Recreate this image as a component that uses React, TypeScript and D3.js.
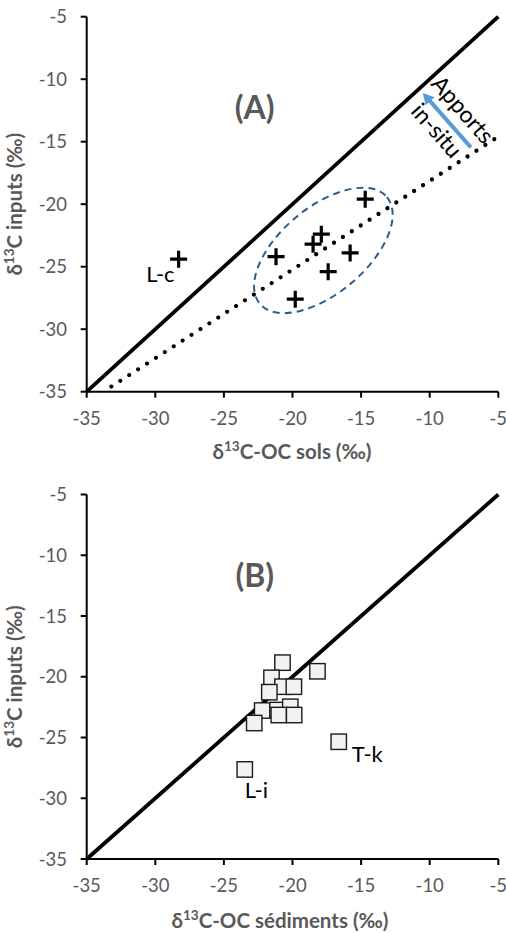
import React from "react";
import * as d3 from "d3";

const tickValues = [-35, -30, -25, -20, -15, -10, -5];

// Panel A: soils
const soilX = [-14.7, -17.9, -18.5, -21.2, -15.8, -17.4, -19.8, -28.3];
const soilY = [-19.6, -22.4, -23.2, -24.2, -23.9, -25.4, -27.6, -24.4];
const soilLabels = ["", "", "", "", "", "", "", "L-c"];

// Regression line (dotted) in panel A
const regRange = [-33.2, -5];
const regSlope = 0.709;
const regIntercept = -11.05;

// Ellipse annotation (data centre)
const ellipseCenter = [-17.75, -23.7];

// Arrow annotation (data coords): from -> to
const arrowFrom = [-7.0, -15.45];
const arrowTo = [-10.5, -11.1];

// Panel B: sediments
const sedX = [-20.73, -18.18, -21.53, -20.73, -19.9, -21.69, -22.21, -21.09, -20.16, -21.0, -19.88, -22.79, -23.48, -16.63];
const sedY = [-18.84, -19.55, -20.09, -20.82, -20.82, -21.27, -22.78, -22.74, -22.47, -23.15, -23.15, -23.81, -27.63, -25.35];
const sedLabels = ["", "", "", "", "", "", "", "", "", "", "", "", "L-i", "T-k"];

const FONT = "Lato, 'Open Sans', sans-serif";
const GREY = "#595959";

const x = d3.scaleLinear().domain([-35, -5]).range([86.7, 498.3]);
const yA = d3.scaleLinear().domain([-35, -5]).range([391.7, 16.7]);
const yB = d3.scaleLinear().domain([-35, -5]).range([859, 494.5]);

function Axes({ y, titleY, titleX, xTitleCx, xTitle }: any) {
  const [y0, y1] = y.range();
  const x0 = x.range()[0];
  const x1 = x.range()[1];
  const cy = (y0 + y1) / 2;
  return (
    <g>
      <line x1={x0} x2={x0} y1={y1} y2={y0} stroke="#000" strokeWidth={2} />
      <line x1={x0} x2={x1} y1={y0} y2={y0} stroke="#000" strokeWidth={2} />
      {tickValues.map((t) => (
        <g key={"y" + t}>
          <line x1={x0 - 6} x2={x0} y1={y(t)} y2={y(t)} stroke="#000" strokeWidth={2} />
          <text x={67} y={y(t) + 6.5} textAnchor="end" fontSize={18.5} fill={GREY} fontFamily={FONT}>
            {t}
          </text>
        </g>
      ))}
      {tickValues.map((t) => (
        <g key={"x" + t}>
          <line x1={x(t)} x2={x(t)} y1={y0} y2={y0 + 6} stroke="#000" strokeWidth={2} />
          <text x={x(t)} y={y0 + 33} textAnchor="middle" fontSize={18.5} fill={GREY} fontFamily={FONT}>
            {t}
          </text>
        </g>
      ))}
      <text
        transform={`translate(${titleX},${cy}) rotate(-90)`}
        textAnchor="middle"
        fontSize={20.5}
        fontWeight="bold"
        fill={GREY}
        fontFamily={FONT}
      >
        <tspan>δ</tspan>
        <tspan dy={-8} fontSize={13.5}>13</tspan>
        <tspan dy={8}>C inputs (‰)</tspan>
      </text>
      <text x={xTitleCx} y={titleY} textAnchor="middle" fontSize={20.5} fontWeight="bold" fill={GREY} fontFamily={FONT}>
        <tspan>δ</tspan>
        <tspan dy={-8} fontSize={13.5}>13</tspan>
        <tspan dy={8}>{xTitle}</tspan>
      </text>
    </g>
  );
}

function Plus({ cx, cy }: any) {
  const s = 8.5;
  return (
    <path d={`M${cx - s},${cy}H${cx + s}M${cx},${cy - s}V${cy + s}`} stroke="#000" strokeWidth={3.2} fill="none" />
  );
}

export default function App() {
  const lineA = d3.line<number>().x((d) => x(d)).y((d) => yA(d));
  const lineB = d3.line<number>().x((d) => x(d)).y((d) => yB(d));
  const regLine = d3
    .line<number>()
    .x((d) => x(d))
    .y((d) => yA(regSlope * d + regIntercept));

  const ax0 = x(arrowFrom[0]);
  const ay0 = yA(arrowFrom[1]);
  const ax1 = x(arrowTo[0]);
  const ay1 = yA(arrowTo[1]);
  const angR = Math.atan2(ay1 - ay0, ax1 - ax0);
  const ang = (angR * 180) / Math.PI;

  return (
    <svg width={506} height={933} style={{ position: "absolute", left: 0, top: 0 }}>
      <rect width={506} height={933} fill="#fff" />
      {/* Panel A */}
      <Axes y={yA} titleX={22} titleY={459} xTitleCx={292} xTitle="C-OC sols (‰)" />
      <path d={lineA([-35, -5]) || ""} stroke="#000" strokeWidth={3.8} fill="none" />
      <path
        d={regLine(regRange) || ""}
        stroke="#000"
        strokeWidth={4.3}
        strokeDasharray="0 10.6"
        strokeLinecap="round"
        fill="none"
      />
      <ellipse
        cx={0}
        cy={0}
        rx={83}
        ry={43}
        transform={`translate(${x(ellipseCenter[0])},${yA(ellipseCenter[1])}) rotate(-40)`}
        fill="none"
        stroke="#2E5C8A"
        strokeWidth={2}
        strokeDasharray="7 5"
      />
      {soilX.map((v, i) => (
        <Plus key={i} cx={x(v)} cy={yA(soilY[i])} />
      ))}
      {soilLabels.map((l, i) =>
        l ? (
          <text key={"l" + i} x={x(soilX[i]) - 4} y={yA(soilY[i]) + 22.5} textAnchor="end" fontSize={22} fontFamily={FONT} fill="#000">
            {l}
          </text>
        ) : null
      )}
      <line
        x1={ax0}
        y1={ay0}
        x2={ax1 - 6 * Math.cos(angR)}
        y2={ay1 - 6 * Math.sin(angR)}
        stroke="#5B9BD5"
        strokeWidth={4}
      />
      <path d="M0,0 L-11,-6 L-11,6 Z" fill="#5B9BD5" transform={`translate(${ax1},${ay1}) rotate(${ang})`} />
      <text transform={`translate(461,111) rotate(48.7)`} textAnchor="middle" dominantBaseline="middle" fontSize={23} fontFamily={FONT}>
        Apports
      </text>
      <text transform={`translate(435,132) rotate(48.7)`} textAnchor="middle" dominantBaseline="middle" fontSize={23} fontFamily={FONT}>
        in-situ
      </text>
      <text x={254.7} y={119} textAnchor="middle" fontSize={32} fontWeight="bold" fill={GREY} fontFamily={FONT}>
        (A)
      </text>

      {/* Panel B */}
      <Axes y={yB} titleX={22} titleY={928} xTitleCx={280} xTitle="C-OC sédiments (‰)" />
      <path d={lineB([-35, -5]) || ""} stroke="#000" strokeWidth={3.8} fill="none" />
      {sedX.map((v, i) => (
        <rect
          key={i}
          x={x(v) - 7.7}
          y={yB(sedY[i]) - 7.7}
          width={15.4}
          height={15.4}
          fill="#F2F2F2"
          stroke="#1A1A1A"
          strokeWidth={1.4}
        />
      ))}
      {sedLabels.map((l, i) =>
        l ? (
          <text
            key={"s" + i}
            x={l === "T-k" ? x(sedX[i]) + 13 : x(sedX[i])}
            y={l === "T-k" ? yB(sedY[i]) + 20 : yB(sedY[i]) + 29}
            textAnchor="start"
            fontSize={22}
            fontFamily={FONT}
            fill="#000"
          >
            {l}
          </text>
        ) : null
      )}
      <text x={254.7} y={587} textAnchor="middle" fontSize={32} fontWeight="bold" fill={GREY} fontFamily={FONT}>
        (B)
      </text>
    </svg>
  );
}
